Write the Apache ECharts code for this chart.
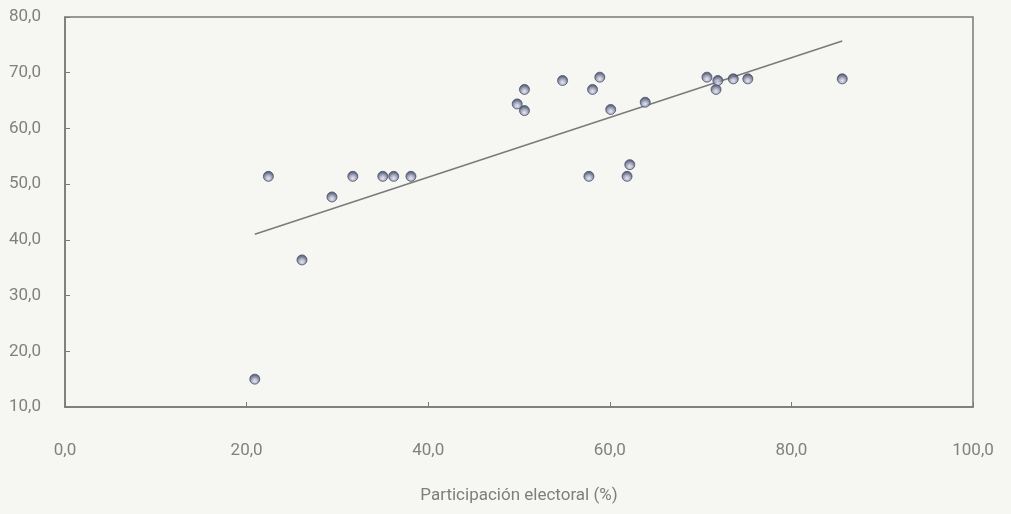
<!DOCTYPE html>
<html>
<head>
<meta charset="utf-8">
<script src="https://cdn.jsdelivr.net/npm/echarts@6/dist/echarts.min.js"></script>
<style>
html,body{margin:0;padding:0;background:#f6f7f3;}
#c{width:1011px;height:514px;}
</style>
</head>
<body>
<div id="c"></div>
<script>
const participacion = [20.9, 22.4, 26.1, 29.4, 31.7, 35.0, 36.2, 38.1, 49.8, 50.6, 50.6, 54.8, 57.7, 58.1, 58.9, 60.1, 61.9, 62.2, 63.9, 70.7, 71.7, 71.9, 73.6, 75.2, 85.6];
const valores      = [15.0, 51.4, 36.4, 47.7, 51.4, 51.4, 51.4, 51.4, 64.4, 67.0, 63.2, 68.6, 51.4, 67.0, 69.2, 63.4, 51.4, 53.5, 64.7, 69.2, 67.0, 68.6, 68.9, 68.9, 68.9];
const tendencia    = [[20.9, 41.0], [85.6, 75.7]];
const xTitulo = 'Participación electoral (%)';

const fmt = v => v.toFixed(1).replace('.', ',');
const puntos = participacion.map((x, i) => [x, valores[i]]);

const chart = echarts.init(document.getElementById('c'));
chart.setOption({
  backgroundColor: '#f6f7f3',
  animation: false,
  grid: {left: 65, right: 38, top: 17, bottom: 107, show: true, borderColor: '#7a7a7a', borderWidth: 1.5, backgroundColor: 'transparent'},
  xAxis: {
    type: 'value', min: 0, max: 100, interval: 20,
    name: xTitulo, nameLocation: 'middle', nameGap: 80,
    nameTextStyle: {color: '#7e7e7e', fontSize: 17, fontFamily: 'Roboto'},
    axisLine: {show: true, lineStyle: {color: '#7a7a7a', width: 1.5}},
    axisTick: {show: true, inside: true, length: 5, lineStyle: {color: '#7a7a7a'}},
    axisLabel: {color: '#808080', fontSize: 17, fontFamily: 'Roboto', margin: 35, formatter: fmt},
    splitLine: {show: false}
  },
  yAxis: {
    type: 'value', min: 10, max: 80, interval: 10,
    axisLine: {show: true, lineStyle: {color: '#7a7a7a', width: 1.5}},
    axisTick: {show: true, inside: true, length: 5, lineStyle: {color: '#7a7a7a'}},
    axisLabel: {color: '#808080', fontSize: 17, fontFamily: 'Roboto', margin: 24, formatter: fmt},
    splitLine: {show: false}
  },
  series: [
    {
      type: 'line', data: tendencia, symbol: 'none', silent: true,
      lineStyle: {color: '#7a7a7a', width: 1.5}, z: 1
    },
    {
      type: 'scatter', data: puntos, symbol: 'circle', symbolSize: 10, z: 2,
      itemStyle: {
        color: {type: 'radial', x: 0.5, y: 0.68, r: 0.55, colorStops: [
          {offset: 0, color: '#e4e6ee'}, {offset: 0.45, color: '#a3a8bd'}, {offset: 1, color: '#3d4362'}
        ]},
        borderColor: '#4a5070', borderWidth: 1
      }
    }
  ]
});
</script>
</body>
</html>
